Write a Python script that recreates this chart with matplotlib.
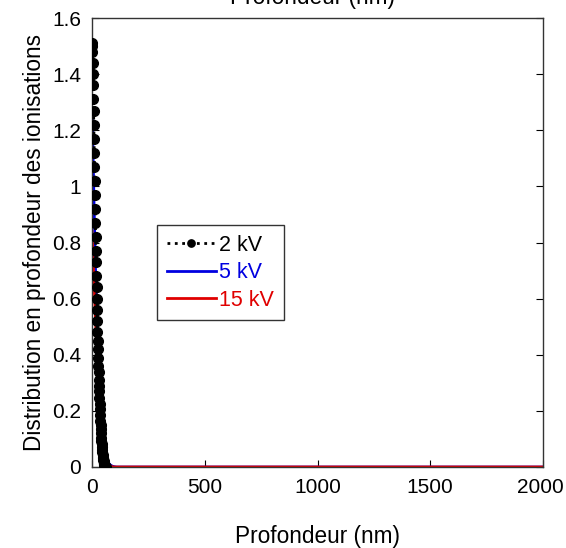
import matplotlib
matplotlib.use("Agg")
import matplotlib.pyplot as plt
import matplotlib.transforms as mtransforms

plt.rcParams['font.family'] = ['Liberation Sans', 'DejaVu Sans']

# 2 kV
depth_2kv = [0, 1, 2, 3, 4, 5, 6, 7, 8, 9, 10, 11, 12, 13, 14, 15, 16, 17, 18,
             19, 20, 21, 22, 23, 24, 25, 26, 27, 28, 29, 30, 31, 32, 33, 34, 35,
             36, 37, 38, 39, 40, 41, 42, 43, 44, 45, 46, 47, 48, 49, 50, 51, 52,
             53, 54, 55, 56, 57, 58, 59, 60]
dist_2kv = [1.51, 1.50, 1.48, 1.44, 1.40, 1.36, 1.31, 1.27, 1.22, 1.17, 1.12,
            1.07, 1.02, 0.97, 0.92, 0.87, 0.82, 0.77, 0.73, 0.68, 0.64, 0.60,
            0.56, 0.52, 0.48, 0.45, 0.42, 0.39, 0.36, 0.34, 0.31, 0.29, 0.27,
            0.245, 0.225, 0.205, 0.185, 0.165, 0.15, 0.135, 0.12, 0.105, 0.093,
            0.082, 0.071, 0.061, 0.052, 0.044, 0.037, 0.031, 0.025, 0.02, 0.016,
            0.012, 0.009, 0.006, 0.004, 0.003, 0.002, 0.001, 0.0]

# 5 kV
depth_5kv = [0, 2, 4, 6, 8, 10, 12, 14, 16, 18, 20, 22, 24, 26, 28, 30, 33, 36,
             40, 44, 48, 52, 56, 60, 65, 70, 75, 80, 90, 100, 110, 120, 2000]
dist_5kv = [1.28, 1.22, 1.14, 1.06, 0.98, 0.90, 0.83, 0.76, 0.69, 0.63, 0.57,
            0.51, 0.46, 0.41, 0.37, 0.33, 0.28, 0.23, 0.18, 0.14, 0.11, 0.085,
            0.065, 0.048, 0.032, 0.021, 0.013, 0.008, 0.003, 0.001, 0.0, 0.0, 0.0]

# 15 kV
depth_15kv = [0, 2, 4, 6, 8, 10, 12, 14, 16, 18, 20, 22, 24, 26, 28, 30, 33, 36,
              40, 44, 48, 52, 56, 60, 65, 70, 80, 90, 100, 2000]
dist_15kv = [0.84, 0.80, 0.76, 0.72, 0.68, 0.64, 0.60, 0.56, 0.52, 0.48, 0.44,
             0.41, 0.37, 0.34, 0.31, 0.28, 0.24, 0.20, 0.16, 0.12, 0.09, 0.07,
             0.05, 0.035, 0.02, 0.012, 0.004, 0.001, 0.0, 0.0]

x_ticks = [0, 500, 1000, 1500, 2000]
y_ticks = [0, 0.2, 0.4, 0.6, 0.8, 1, 1.2, 1.4, 1.6]
y_ticklabels = ['0', '0.2', '0.4', '0.6', '0.8', '1', '1.2', '1.4', '1.6']

fig = plt.figure(figsize=(5.66, 5.48), dpi=100)
ax = fig.add_axes([92/566, 1-467/548, (543-92)/566, (467-18)/548])

ax.plot(depth_15kv, dist_15kv, color='#e00000', linewidth=2, label='15 kV', zorder=2.5)
ax.plot(depth_5kv, dist_5kv, color='#0000e0', linewidth=2, label='5 kV', zorder=2)
ax.plot(depth_2kv, dist_2kv, color='black', linestyle=':', linewidth=2,
        marker='o', markersize=7, label='2 kV', zorder=3)

ax.set_xlim(0, 2000)
ax.set_ylim(0, 1.6)
ax.set_xticks(x_ticks)
ax.set_xticklabels([str(t) for t in x_ticks])
ax.set_yticks(y_ticks)
ax.set_yticklabels(y_ticklabels)
ax.tick_params(direction='in', length=5, labelsize=15, right=True, top=False,
               pad=8)
for s in ax.spines.values():
    s.set_linewidth(1.0)
    s.set_color('#333333')

# nudge last x tick label slightly left so it stays inside the figure
last = ax.get_xticklabels()[-1]
last.set_transform(last.get_transform() +
                   mtransforms.ScaledTranslation(-3/100, 0, fig.dpi_scale_trans))

ax.set_xlabel('Profondeur (nm)', fontsize=16.3, labelpad=20)
ax.set_ylabel('Distribution en profondeur des ionisations', fontsize=16.3, labelpad=4)

fig.text(0.552, 1-4/548, 'Profondeur (nm)', fontsize=16.3, ha='center', va='baseline')

handles, labels = ax.get_legend_handles_labels()
order = [2, 1, 0]
leg = ax.legend([handles[i] for i in order], [labels[i] for i in order],
                loc='upper left', bbox_to_anchor=((157-92)/451, (467-225)/449),
                fontsize=15.5, frameon=True, fancybox=False, edgecolor='black',
                handlelength=2.3, handletextpad=0.15, borderpad=0.45,
                labelspacing=0.3, markerscale=0.75, numpoints=1,
                borderaxespad=0)
leg.get_frame().set_linewidth(1.0)
for text, line in zip(leg.get_texts(), leg.get_lines()):
    text.set_color(line.get_color())

fig.savefig('out.png', dpi=100)
